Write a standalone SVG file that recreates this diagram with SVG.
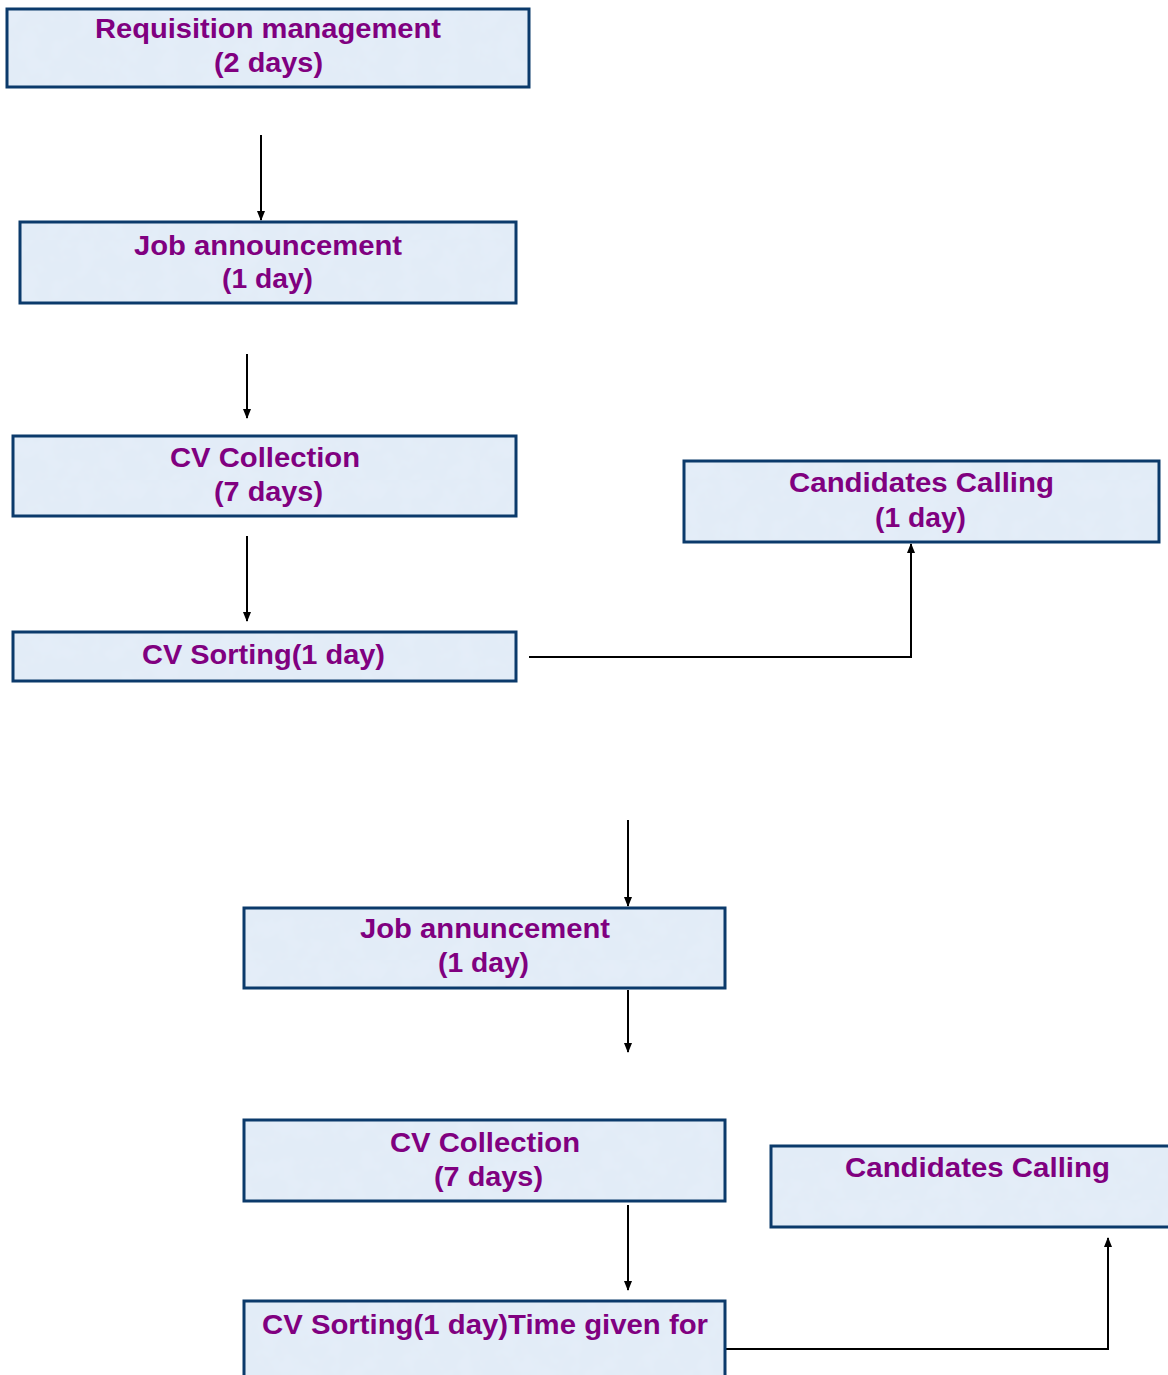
<svg xmlns="http://www.w3.org/2000/svg" width="1168" height="1375" viewBox="0 0 1168 1375">
<style>
.box{fill:url(#tex);stroke:#0b3a6b;stroke-width:3}
.t{font-family:"Liberation Sans",Arial,sans-serif;font-weight:bold;font-size:27px;fill:#800080;text-anchor:middle}
.c{fill:none;stroke:#000;stroke-width:2}
</style>
<defs>
<filter id="noise" x="0" y="0" width="100%" height="100%">
<feTurbulence type="fractalNoise" baseFrequency="0.05" numOctaves="3" seed="4" result="n"/>
<feColorMatrix in="n" type="matrix" values="0 0 0 0 0.78  0 0 0 0 0.85  0 0 0 0 0.94  0 0 0 -2.2 1.35"/>
</filter>
<pattern id="tex" patternUnits="userSpaceOnUse" width="240" height="240">
<rect width="240" height="240" fill="#e2ecf7"/>
<rect width="240" height="240" filter="url(#noise)"/>
</pattern>
<marker id="ah" markerWidth="10" markerHeight="10" refX="9" refY="5" orient="auto" markerUnits="userSpaceOnUse">
<path d="M0,1 L10,5 L0,9 z" fill="#000"/>
</marker>
</defs>
<g id="connectors">
<line class="c" x1="261" y1="135" x2="261" y2="220" marker-end="url(#ah)"/>
<line class="c" x1="247" y1="354" x2="247" y2="418" marker-end="url(#ah)"/>
<line class="c" x1="247" y1="536" x2="247" y2="621" marker-end="url(#ah)"/>
<polyline class="c" points="529,657 911,657 911,544" marker-end="url(#ah)"/>
<line class="c" x1="628" y1="820" x2="628" y2="906" marker-end="url(#ah)"/>
<line class="c" x1="628" y1="990" x2="628" y2="1052" marker-end="url(#ah)"/>
<line class="c" x1="628" y1="1205" x2="628" y2="1290" marker-end="url(#ah)"/>
<polyline class="c" points="725,1349 1108,1349 1108,1238" marker-end="url(#ah)"/>
</g>
<g id="n1"><rect class="box" x="7" y="9" width="522" height="78"/><text class="t" x="268" y="38" textLength="346" lengthAdjust="spacingAndGlyphs">Requisition management</text><text class="t" x="268.5" y="72" textLength="109" lengthAdjust="spacingAndGlyphs">(2 days)</text></g>
<g id="n2"><rect class="box" x="20" y="222" width="496" height="81"/><text class="t" x="268" y="255" textLength="268" lengthAdjust="spacingAndGlyphs">Job announcement</text><text class="t" x="267.5" y="288" textLength="91" lengthAdjust="spacingAndGlyphs">(1 day)</text></g>
<g id="n3"><rect class="box" x="13" y="436" width="503" height="80"/><text class="t" x="265" y="467" textLength="190" lengthAdjust="spacingAndGlyphs">CV Collection</text><text class="t" x="268.5" y="501" textLength="109" lengthAdjust="spacingAndGlyphs">(7 days)</text></g>
<g id="n4"><rect class="box" x="13" y="632" width="503" height="49"/><text class="t" x="263.5" y="664" textLength="243" lengthAdjust="spacingAndGlyphs">CV Sorting(1 day)</text></g>
<g id="n5"><rect class="box" x="684" y="461" width="475" height="81"/><text class="t" x="921.5" y="492" textLength="265" lengthAdjust="spacingAndGlyphs">Candidates Calling</text><text class="t" x="920.5" y="527" textLength="91" lengthAdjust="spacingAndGlyphs">(1 day)</text></g>
<g id="n6"><rect class="box" x="244" y="908" width="481" height="80"/><text class="t" x="485" y="938" textLength="250" lengthAdjust="spacingAndGlyphs">Job annuncement</text><text class="t" x="483.5" y="972" textLength="91" lengthAdjust="spacingAndGlyphs">(1 day)</text></g>
<g id="n7"><rect class="box" x="244" y="1120" width="481" height="81"/><text class="t" x="485" y="1152" textLength="190" lengthAdjust="spacingAndGlyphs">CV Collection</text><text class="t" x="488.5" y="1186" textLength="109" lengthAdjust="spacingAndGlyphs">(7 days)</text></g>
<g id="n8"><rect class="box" x="244" y="1301" width="481" height="90"/><text class="t" x="485" y="1334" textLength="446" lengthAdjust="spacingAndGlyphs">CV Sorting(1 day)Time given for</text></g>
<g id="n9"><rect class="box" x="771" y="1146" width="410" height="81"/><text class="t" x="977.5" y="1177" textLength="265" lengthAdjust="spacingAndGlyphs">Candidates Calling</text></g>
</svg>
